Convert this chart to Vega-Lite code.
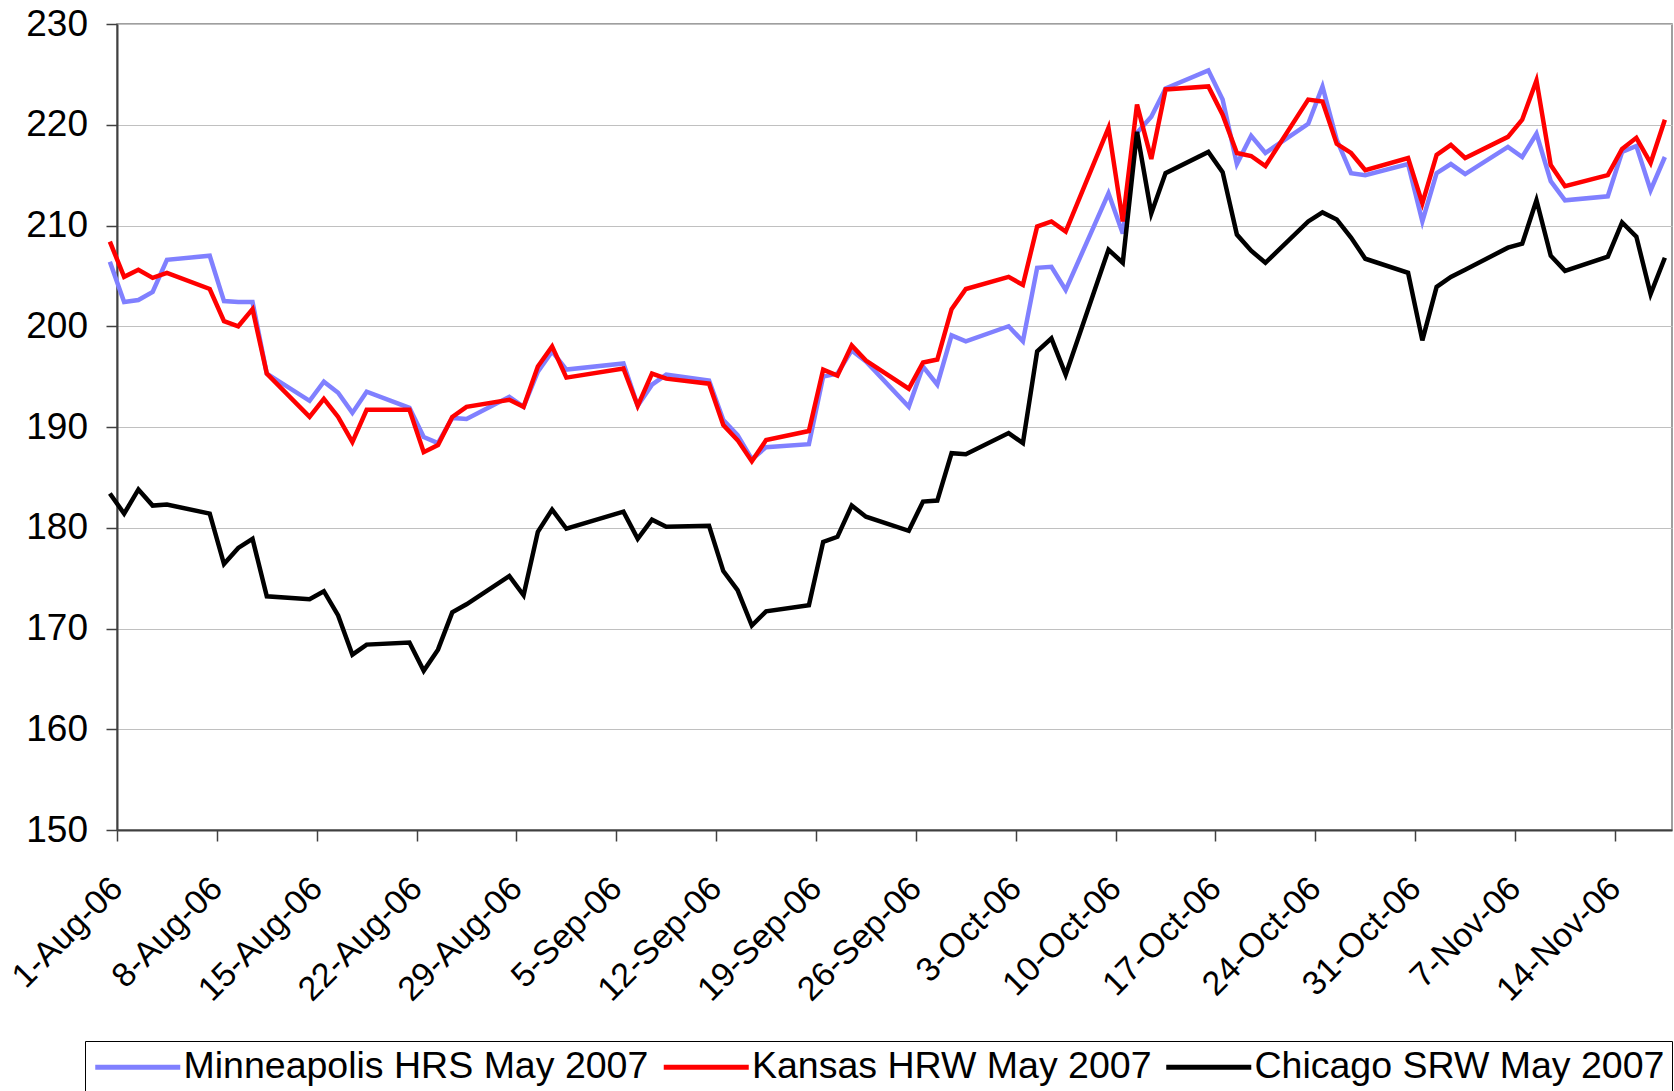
{
"$schema": "https://vega.github.io/schema/vega-lite/v6.json",
"autosize": {"type": "none"},
"padding": {"left": 117, "top": 24, "right": 2, "bottom": 261},
"width": 1555,
"height": 806,
"background": "white",
"config": {"view": {"stroke": "#808080", "strokeWidth": 1.5}, "font": "Liberation Sans"},
"data": {"values": [
{"series":"Minneapolis HRS May 2007","date":"2006-07-31","price":206.4},
{"series":"Minneapolis HRS May 2007","date":"2006-08-01","price":202.4},
{"series":"Minneapolis HRS May 2007","date":"2006-08-02","price":202.6},
{"series":"Minneapolis HRS May 2007","date":"2006-08-03","price":203.4},
{"series":"Minneapolis HRS May 2007","date":"2006-08-04","price":206.6},
{"series":"Minneapolis HRS May 2007","date":"2006-08-07","price":207.0},
{"series":"Minneapolis HRS May 2007","date":"2006-08-08","price":202.5},
{"series":"Minneapolis HRS May 2007","date":"2006-08-09","price":202.4},
{"series":"Minneapolis HRS May 2007","date":"2006-08-10","price":202.4},
{"series":"Minneapolis HRS May 2007","date":"2006-08-11","price":195.3},
{"series":"Minneapolis HRS May 2007","date":"2006-08-14","price":192.6},
{"series":"Minneapolis HRS May 2007","date":"2006-08-15","price":194.5},
{"series":"Minneapolis HRS May 2007","date":"2006-08-16","price":193.4},
{"series":"Minneapolis HRS May 2007","date":"2006-08-17","price":191.4},
{"series":"Minneapolis HRS May 2007","date":"2006-08-18","price":193.5},
{"series":"Minneapolis HRS May 2007","date":"2006-08-21","price":191.9},
{"series":"Minneapolis HRS May 2007","date":"2006-08-22","price":189.0},
{"series":"Minneapolis HRS May 2007","date":"2006-08-23","price":188.4},
{"series":"Minneapolis HRS May 2007","date":"2006-08-24","price":190.9},
{"series":"Minneapolis HRS May 2007","date":"2006-08-25","price":190.8},
{"series":"Minneapolis HRS May 2007","date":"2006-08-28","price":193.0},
{"series":"Minneapolis HRS May 2007","date":"2006-08-29","price":192.0},
{"series":"Minneapolis HRS May 2007","date":"2006-08-30","price":195.5},
{"series":"Minneapolis HRS May 2007","date":"2006-08-31","price":197.5},
{"series":"Minneapolis HRS May 2007","date":"2006-09-01","price":195.7},
{"series":"Minneapolis HRS May 2007","date":"2006-09-05","price":196.3},
{"series":"Minneapolis HRS May 2007","date":"2006-09-06","price":192.1},
{"series":"Minneapolis HRS May 2007","date":"2006-09-07","price":194.2},
{"series":"Minneapolis HRS May 2007","date":"2006-09-08","price":195.2},
{"series":"Minneapolis HRS May 2007","date":"2006-09-11","price":194.6},
{"series":"Minneapolis HRS May 2007","date":"2006-09-12","price":190.7},
{"series":"Minneapolis HRS May 2007","date":"2006-09-13","price":189.2},
{"series":"Minneapolis HRS May 2007","date":"2006-09-14","price":186.8},
{"series":"Minneapolis HRS May 2007","date":"2006-09-15","price":188.0},
{"series":"Minneapolis HRS May 2007","date":"2006-09-18","price":188.3},
{"series":"Minneapolis HRS May 2007","date":"2006-09-19","price":195.0},
{"series":"Minneapolis HRS May 2007","date":"2006-09-20","price":195.3},
{"series":"Minneapolis HRS May 2007","date":"2006-09-21","price":197.6},
{"series":"Minneapolis HRS May 2007","date":"2006-09-22","price":196.5},
{"series":"Minneapolis HRS May 2007","date":"2006-09-25","price":192.0},
{"series":"Minneapolis HRS May 2007","date":"2006-09-26","price":196.0},
{"series":"Minneapolis HRS May 2007","date":"2006-09-27","price":194.2},
{"series":"Minneapolis HRS May 2007","date":"2006-09-28","price":199.1},
{"series":"Minneapolis HRS May 2007","date":"2006-09-29","price":198.5},
{"series":"Minneapolis HRS May 2007","date":"2006-10-02","price":200.0},
{"series":"Minneapolis HRS May 2007","date":"2006-10-03","price":198.5},
{"series":"Minneapolis HRS May 2007","date":"2006-10-04","price":205.8},
{"series":"Minneapolis HRS May 2007","date":"2006-10-05","price":205.9},
{"series":"Minneapolis HRS May 2007","date":"2006-10-06","price":203.6},
{"series":"Minneapolis HRS May 2007","date":"2006-10-09","price":213.2},
{"series":"Minneapolis HRS May 2007","date":"2006-10-10","price":209.2},
{"series":"Minneapolis HRS May 2007","date":"2006-10-11","price":219.2},
{"series":"Minneapolis HRS May 2007","date":"2006-10-12","price":220.8},
{"series":"Minneapolis HRS May 2007","date":"2006-10-13","price":223.6},
{"series":"Minneapolis HRS May 2007","date":"2006-10-16","price":225.4},
{"series":"Minneapolis HRS May 2007","date":"2006-10-17","price":222.5},
{"series":"Minneapolis HRS May 2007","date":"2006-10-18","price":216.1},
{"series":"Minneapolis HRS May 2007","date":"2006-10-19","price":218.9},
{"series":"Minneapolis HRS May 2007","date":"2006-10-20","price":217.2},
{"series":"Minneapolis HRS May 2007","date":"2006-10-23","price":220.1},
{"series":"Minneapolis HRS May 2007","date":"2006-10-24","price":223.8},
{"series":"Minneapolis HRS May 2007","date":"2006-10-25","price":218.5},
{"series":"Minneapolis HRS May 2007","date":"2006-10-26","price":215.2},
{"series":"Minneapolis HRS May 2007","date":"2006-10-27","price":215.0},
{"series":"Minneapolis HRS May 2007","date":"2006-10-30","price":216.1},
{"series":"Minneapolis HRS May 2007","date":"2006-10-31","price":210.4},
{"series":"Minneapolis HRS May 2007","date":"2006-11-01","price":215.2},
{"series":"Minneapolis HRS May 2007","date":"2006-11-02","price":216.1},
{"series":"Minneapolis HRS May 2007","date":"2006-11-03","price":215.1},
{"series":"Minneapolis HRS May 2007","date":"2006-11-06","price":217.8},
{"series":"Minneapolis HRS May 2007","date":"2006-11-07","price":216.8},
{"series":"Minneapolis HRS May 2007","date":"2006-11-08","price":219.1},
{"series":"Minneapolis HRS May 2007","date":"2006-11-09","price":214.4},
{"series":"Minneapolis HRS May 2007","date":"2006-11-10","price":212.5},
{"series":"Minneapolis HRS May 2007","date":"2006-11-13","price":212.9},
{"series":"Minneapolis HRS May 2007","date":"2006-11-14","price":217.3},
{"series":"Minneapolis HRS May 2007","date":"2006-11-15","price":217.9},
{"series":"Minneapolis HRS May 2007","date":"2006-11-16","price":213.5},
{"series":"Minneapolis HRS May 2007","date":"2006-11-17","price":216.8},
{"series":"Kansas HRW May 2007","date":"2006-07-31","price":208.4},
{"series":"Kansas HRW May 2007","date":"2006-08-01","price":204.9},
{"series":"Kansas HRW May 2007","date":"2006-08-02","price":205.6},
{"series":"Kansas HRW May 2007","date":"2006-08-03","price":204.8},
{"series":"Kansas HRW May 2007","date":"2006-08-04","price":205.3},
{"series":"Kansas HRW May 2007","date":"2006-08-07","price":203.7},
{"series":"Kansas HRW May 2007","date":"2006-08-08","price":200.5},
{"series":"Kansas HRW May 2007","date":"2006-08-09","price":200.0},
{"series":"Kansas HRW May 2007","date":"2006-08-10","price":201.7},
{"series":"Kansas HRW May 2007","date":"2006-08-11","price":195.3},
{"series":"Kansas HRW May 2007","date":"2006-08-14","price":191.0},
{"series":"Kansas HRW May 2007","date":"2006-08-15","price":192.8},
{"series":"Kansas HRW May 2007","date":"2006-08-16","price":191.0},
{"series":"Kansas HRW May 2007","date":"2006-08-17","price":188.5},
{"series":"Kansas HRW May 2007","date":"2006-08-18","price":191.7},
{"series":"Kansas HRW May 2007","date":"2006-08-21","price":191.7},
{"series":"Kansas HRW May 2007","date":"2006-08-22","price":187.5},
{"series":"Kansas HRW May 2007","date":"2006-08-23","price":188.2},
{"series":"Kansas HRW May 2007","date":"2006-08-24","price":191.0},
{"series":"Kansas HRW May 2007","date":"2006-08-25","price":192.0},
{"series":"Kansas HRW May 2007","date":"2006-08-28","price":192.7},
{"series":"Kansas HRW May 2007","date":"2006-08-29","price":192.0},
{"series":"Kansas HRW May 2007","date":"2006-08-30","price":196.0},
{"series":"Kansas HRW May 2007","date":"2006-08-31","price":198.0},
{"series":"Kansas HRW May 2007","date":"2006-09-01","price":194.9},
{"series":"Kansas HRW May 2007","date":"2006-09-05","price":195.8},
{"series":"Kansas HRW May 2007","date":"2006-09-06","price":192.1},
{"series":"Kansas HRW May 2007","date":"2006-09-07","price":195.3},
{"series":"Kansas HRW May 2007","date":"2006-09-08","price":194.8},
{"series":"Kansas HRW May 2007","date":"2006-09-11","price":194.3},
{"series":"Kansas HRW May 2007","date":"2006-09-12","price":190.2},
{"series":"Kansas HRW May 2007","date":"2006-09-13","price":188.7},
{"series":"Kansas HRW May 2007","date":"2006-09-14","price":186.6},
{"series":"Kansas HRW May 2007","date":"2006-09-15","price":188.7},
{"series":"Kansas HRW May 2007","date":"2006-09-18","price":189.6},
{"series":"Kansas HRW May 2007","date":"2006-09-19","price":195.7},
{"series":"Kansas HRW May 2007","date":"2006-09-20","price":195.1},
{"series":"Kansas HRW May 2007","date":"2006-09-21","price":198.1},
{"series":"Kansas HRW May 2007","date":"2006-09-22","price":196.6},
{"series":"Kansas HRW May 2007","date":"2006-09-25","price":193.8},
{"series":"Kansas HRW May 2007","date":"2006-09-26","price":196.4},
{"series":"Kansas HRW May 2007","date":"2006-09-27","price":196.7},
{"series":"Kansas HRW May 2007","date":"2006-09-28","price":201.7},
{"series":"Kansas HRW May 2007","date":"2006-09-29","price":203.7},
{"series":"Kansas HRW May 2007","date":"2006-10-02","price":204.9},
{"series":"Kansas HRW May 2007","date":"2006-10-03","price":204.1},
{"series":"Kansas HRW May 2007","date":"2006-10-04","price":209.9},
{"series":"Kansas HRW May 2007","date":"2006-10-05","price":210.4},
{"series":"Kansas HRW May 2007","date":"2006-10-06","price":209.4},
{"series":"Kansas HRW May 2007","date":"2006-10-09","price":219.7},
{"series":"Kansas HRW May 2007","date":"2006-10-10","price":210.4},
{"series":"Kansas HRW May 2007","date":"2006-10-11","price":222.0},
{"series":"Kansas HRW May 2007","date":"2006-10-12","price":216.6},
{"series":"Kansas HRW May 2007","date":"2006-10-13","price":223.5},
{"series":"Kansas HRW May 2007","date":"2006-10-16","price":223.8},
{"series":"Kansas HRW May 2007","date":"2006-10-17","price":221.0},
{"series":"Kansas HRW May 2007","date":"2006-10-18","price":217.2},
{"series":"Kansas HRW May 2007","date":"2006-10-19","price":216.9},
{"series":"Kansas HRW May 2007","date":"2006-10-20","price":215.9},
{"series":"Kansas HRW May 2007","date":"2006-10-23","price":222.5},
{"series":"Kansas HRW May 2007","date":"2006-10-24","price":222.3},
{"series":"Kansas HRW May 2007","date":"2006-10-25","price":218.1},
{"series":"Kansas HRW May 2007","date":"2006-10-26","price":217.2},
{"series":"Kansas HRW May 2007","date":"2006-10-27","price":215.5},
{"series":"Kansas HRW May 2007","date":"2006-10-30","price":216.7},
{"series":"Kansas HRW May 2007","date":"2006-10-31","price":212.2},
{"series":"Kansas HRW May 2007","date":"2006-11-01","price":217.0},
{"series":"Kansas HRW May 2007","date":"2006-11-02","price":218.0},
{"series":"Kansas HRW May 2007","date":"2006-11-03","price":216.7},
{"series":"Kansas HRW May 2007","date":"2006-11-06","price":218.8},
{"series":"Kansas HRW May 2007","date":"2006-11-07","price":220.5},
{"series":"Kansas HRW May 2007","date":"2006-11-08","price":224.4},
{"series":"Kansas HRW May 2007","date":"2006-11-09","price":216.0},
{"series":"Kansas HRW May 2007","date":"2006-11-10","price":213.9},
{"series":"Kansas HRW May 2007","date":"2006-11-13","price":215.0},
{"series":"Kansas HRW May 2007","date":"2006-11-14","price":217.6},
{"series":"Kansas HRW May 2007","date":"2006-11-15","price":218.7},
{"series":"Kansas HRW May 2007","date":"2006-11-16","price":216.2},
{"series":"Kansas HRW May 2007","date":"2006-11-17","price":220.5},
{"series":"Chicago SRW May 2007","date":"2006-07-31","price":183.4},
{"series":"Chicago SRW May 2007","date":"2006-08-01","price":181.4},
{"series":"Chicago SRW May 2007","date":"2006-08-02","price":183.8},
{"series":"Chicago SRW May 2007","date":"2006-08-03","price":182.2},
{"series":"Chicago SRW May 2007","date":"2006-08-04","price":182.3},
{"series":"Chicago SRW May 2007","date":"2006-08-07","price":181.4},
{"series":"Chicago SRW May 2007","date":"2006-08-08","price":176.4},
{"series":"Chicago SRW May 2007","date":"2006-08-09","price":178.0},
{"series":"Chicago SRW May 2007","date":"2006-08-10","price":178.9},
{"series":"Chicago SRW May 2007","date":"2006-08-11","price":173.2},
{"series":"Chicago SRW May 2007","date":"2006-08-14","price":172.9},
{"series":"Chicago SRW May 2007","date":"2006-08-15","price":173.7},
{"series":"Chicago SRW May 2007","date":"2006-08-16","price":171.3},
{"series":"Chicago SRW May 2007","date":"2006-08-17","price":167.4},
{"series":"Chicago SRW May 2007","date":"2006-08-18","price":168.4},
{"series":"Chicago SRW May 2007","date":"2006-08-21","price":168.6},
{"series":"Chicago SRW May 2007","date":"2006-08-22","price":165.8},
{"series":"Chicago SRW May 2007","date":"2006-08-23","price":167.9},
{"series":"Chicago SRW May 2007","date":"2006-08-24","price":171.6},
{"series":"Chicago SRW May 2007","date":"2006-08-25","price":172.4},
{"series":"Chicago SRW May 2007","date":"2006-08-28","price":175.2},
{"series":"Chicago SRW May 2007","date":"2006-08-29","price":173.3},
{"series":"Chicago SRW May 2007","date":"2006-08-30","price":179.6},
{"series":"Chicago SRW May 2007","date":"2006-08-31","price":181.8},
{"series":"Chicago SRW May 2007","date":"2006-09-01","price":179.9},
{"series":"Chicago SRW May 2007","date":"2006-09-05","price":181.6},
{"series":"Chicago SRW May 2007","date":"2006-09-06","price":178.9},
{"series":"Chicago SRW May 2007","date":"2006-09-07","price":180.8},
{"series":"Chicago SRW May 2007","date":"2006-09-08","price":180.1},
{"series":"Chicago SRW May 2007","date":"2006-09-11","price":180.2},
{"series":"Chicago SRW May 2007","date":"2006-09-12","price":175.7},
{"series":"Chicago SRW May 2007","date":"2006-09-13","price":173.8},
{"series":"Chicago SRW May 2007","date":"2006-09-14","price":170.3},
{"series":"Chicago SRW May 2007","date":"2006-09-15","price":171.7},
{"series":"Chicago SRW May 2007","date":"2006-09-18","price":172.3},
{"series":"Chicago SRW May 2007","date":"2006-09-19","price":178.6},
{"series":"Chicago SRW May 2007","date":"2006-09-20","price":179.1},
{"series":"Chicago SRW May 2007","date":"2006-09-21","price":182.2},
{"series":"Chicago SRW May 2007","date":"2006-09-22","price":181.1},
{"series":"Chicago SRW May 2007","date":"2006-09-25","price":179.7},
{"series":"Chicago SRW May 2007","date":"2006-09-26","price":182.6},
{"series":"Chicago SRW May 2007","date":"2006-09-27","price":182.7},
{"series":"Chicago SRW May 2007","date":"2006-09-28","price":187.4},
{"series":"Chicago SRW May 2007","date":"2006-09-29","price":187.3},
{"series":"Chicago SRW May 2007","date":"2006-10-02","price":189.4},
{"series":"Chicago SRW May 2007","date":"2006-10-03","price":188.4},
{"series":"Chicago SRW May 2007","date":"2006-10-04","price":197.5},
{"series":"Chicago SRW May 2007","date":"2006-10-05","price":198.8},
{"series":"Chicago SRW May 2007","date":"2006-10-06","price":195.2},
{"series":"Chicago SRW May 2007","date":"2006-10-09","price":207.6},
{"series":"Chicago SRW May 2007","date":"2006-10-10","price":206.3},
{"series":"Chicago SRW May 2007","date":"2006-10-11","price":219.3},
{"series":"Chicago SRW May 2007","date":"2006-10-12","price":211.2},
{"series":"Chicago SRW May 2007","date":"2006-10-13","price":215.2},
{"series":"Chicago SRW May 2007","date":"2006-10-16","price":217.3},
{"series":"Chicago SRW May 2007","date":"2006-10-17","price":215.3},
{"series":"Chicago SRW May 2007","date":"2006-10-18","price":209.1},
{"series":"Chicago SRW May 2007","date":"2006-10-19","price":207.5},
{"series":"Chicago SRW May 2007","date":"2006-10-20","price":206.3},
{"series":"Chicago SRW May 2007","date":"2006-10-23","price":210.4},
{"series":"Chicago SRW May 2007","date":"2006-10-24","price":211.3},
{"series":"Chicago SRW May 2007","date":"2006-10-25","price":210.6},
{"series":"Chicago SRW May 2007","date":"2006-10-26","price":208.8},
{"series":"Chicago SRW May 2007","date":"2006-10-27","price":206.7},
{"series":"Chicago SRW May 2007","date":"2006-10-30","price":205.3},
{"series":"Chicago SRW May 2007","date":"2006-10-31","price":198.6},
{"series":"Chicago SRW May 2007","date":"2006-11-01","price":203.9},
{"series":"Chicago SRW May 2007","date":"2006-11-02","price":204.9},
{"series":"Chicago SRW May 2007","date":"2006-11-03","price":205.6},
{"series":"Chicago SRW May 2007","date":"2006-11-06","price":207.8},
{"series":"Chicago SRW May 2007","date":"2006-11-07","price":208.2},
{"series":"Chicago SRW May 2007","date":"2006-11-08","price":212.5},
{"series":"Chicago SRW May 2007","date":"2006-11-09","price":207.0},
{"series":"Chicago SRW May 2007","date":"2006-11-10","price":205.5},
{"series":"Chicago SRW May 2007","date":"2006-11-13","price":206.9},
{"series":"Chicago SRW May 2007","date":"2006-11-14","price":210.3},
{"series":"Chicago SRW May 2007","date":"2006-11-15","price":208.9},
{"series":"Chicago SRW May 2007","date":"2006-11-16","price":203.2},
{"series":"Chicago SRW May 2007","date":"2006-11-17","price":206.8}
]},
"mark": {"type": "line", "clip": false, "strokeWidth": 4.5},
"encoding": {
  "x": {
    "field": "date", "type": "temporal", "timeUnit": "utcyearmonthdate", "bandPosition": 0.5,
    "scale": {"type": "utc", "domain": [{"year": 2006, "month": 8, "date": 1, "utc": true}, {"year": 2006, "month": 11, "date": 18, "utc": true}]},
    "axis": {
      "title": null,
      "values": [
        {"year": 2006, "month": 8, "date": 1, "utc": true},
        {"year": 2006, "month": 8, "date": 8, "utc": true},
        {"year": 2006, "month": 8, "date": 15, "utc": true},
        {"year": 2006, "month": 8, "date": 22, "utc": true},
        {"year": 2006, "month": 8, "date": 29, "utc": true},
        {"year": 2006, "month": 9, "date": 5, "utc": true},
        {"year": 2006, "month": 9, "date": 12, "utc": true},
        {"year": 2006, "month": 9, "date": 19, "utc": true},
        {"year": 2006, "month": 9, "date": 26, "utc": true},
        {"year": 2006, "month": 10, "date": 3, "utc": true},
        {"year": 2006, "month": 10, "date": 10, "utc": true},
        {"year": 2006, "month": 10, "date": 17, "utc": true},
        {"year": 2006, "month": 10, "date": 24, "utc": true},
        {"year": 2006, "month": 10, "date": 31, "utc": true},
        {"year": 2006, "month": 11, "date": 7, "utc": true},
        {"year": 2006, "month": 11, "date": 14, "utc": true}
      ],
      "format": "%-d-%b-%y",
      "grid": false,
      "domainColor": "#404040", "domainWidth": 2,
      "tickColor": "#404040", "tickWidth": 1.5, "tickSize": 11,
      "labelAngle": -45, "labelAlign": "right", "labelBaseline": "middle",
      "labelPadding": 42, "labelFontSize": 34, "labelColor": "black",
      "labelFont": "Liberation Sans", "labelOverlap": false, "labelFlush": false, "labelBound": false
    }
  },
  "y": {
    "field": "price", "type": "quantitative",
    "scale": {"domain": [150, 230], "nice": false, "zero": false},
    "axis": {
      "title": null,
      "values": [150, 160, 170, 180, 190, 200, 210, 220, 230],
      "grid": true, "gridColor": "#c0c0c0", "gridWidth": 1,
      "domainColor": "#404040", "domainWidth": 2,
      "tickColor": "#404040", "tickWidth": 1.5, "tickSize": 11,
      "labelPadding": 18.5, "labelFontSize": 37, "labelColor": "black",
      "labelFont": "Liberation Sans"
    }
  },
  "color": {
    "field": "series", "type": "nominal",
    "scale": {"domain": ["Minneapolis HRS May 2007", "Kansas HRW May 2007", "Chicago SRW May 2007"], "range": ["#8080ff", "#ff0000", "#000000"]},
    "legend": {
      "title": null, "orient": "none", "legendX": -32, "legendY": 1017,
      "direction": "horizontal",
      "symbolType": "M-3,0H3", "symbolSize": 803, "symbolStrokeWidth": 5, "symbolOffset": 27,
      "labelOffset": 27, "labelFontSize": 37.5, "labelFont": "Liberation Sans", "labelColor": "black", "labelLimit": 1000,
      "columnPadding": 4.5, "padding": 7, "strokeColor": "black", "fillColor": "white"
    }
  }
}
}
